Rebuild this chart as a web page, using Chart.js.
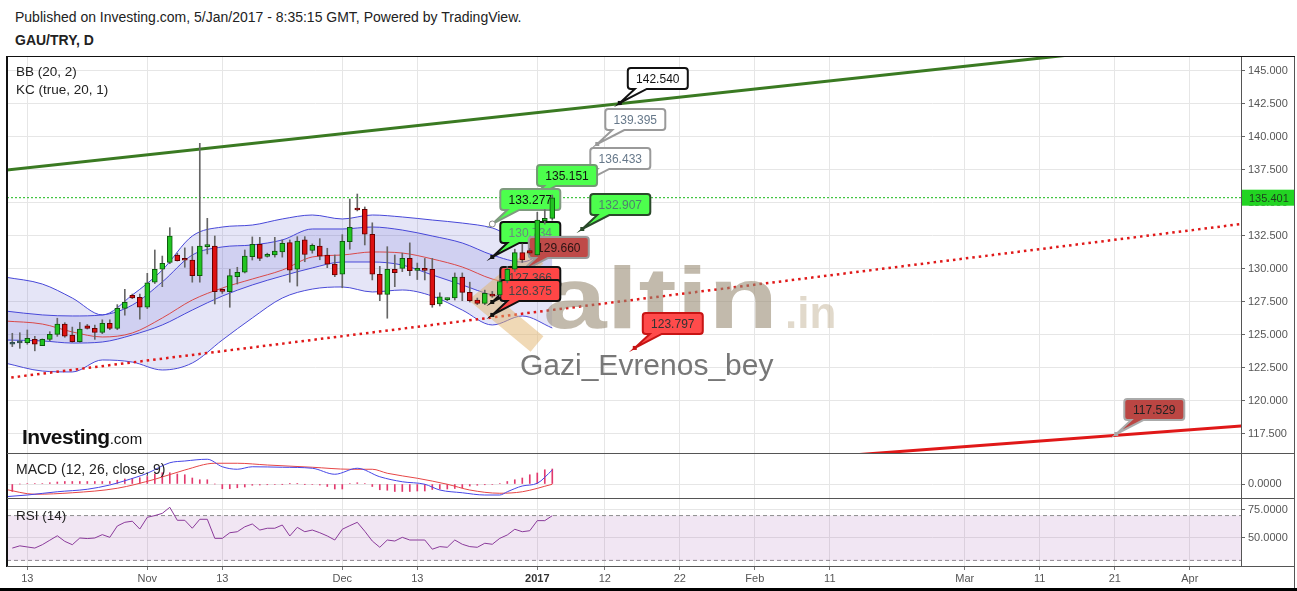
<!DOCTYPE html>
<html>
<head>
<meta charset="utf-8">
<script src="https://cdn.jsdelivr.net/npm/chart.js@4.4.0/dist/chart.umd.min.js"></script>
<style>
body { margin: 0; background: #fff; font-family: Arial, "Liberation Sans", sans-serif; width: 1297px; height: 591px; overflow: hidden; }
.abs { position: absolute; }
.wrap { position: absolute; left: 0; width: 1297px; }
.txt { position: absolute; font-size: 13.5px; color: #222; white-space: nowrap; line-height: 16px; }
.line { position: absolute; background: #555; }
</style>
</head>
<body>
<div class="txt" style="left:15px;top:9px;font-size:14px;">Published on Investing.com, 5/Jan/2017 - 8:35:15 GMT, Powered by TradingView.</div>
<div class="txt" style="left:15px;top:32px;font-size:14px;font-weight:bold;">GAU/TRY, D</div>

<div class="wrap" style="top:57px;height:396px;"><canvas id="mainChart"></canvas></div>
<div class="wrap" style="top:453px;height:45px;"><canvas id="macdChart"></canvas></div>
<div class="wrap" style="top:498px;height:93px;"><canvas id="rsiChart"></canvas></div>

<div class="line" style="left:6px;top:56px;width:1289px;height:1px;background:#111;"></div>
<div class="line" style="left:6px;top:56px;width:2px;height:511px;background:#111;"></div>
<div class="line" style="left:1241px;top:57px;width:1px;height:510px;"></div>
<div class="line" style="left:1294px;top:57px;width:1px;height:534px;"></div>
<div class="line" style="left:7px;top:453px;width:1288px;height:1px;"></div>
<div class="line" style="left:7px;top:498px;width:1288px;height:1px;"></div>
<div class="line" style="left:7px;top:566px;width:1288px;height:1px;"></div>
<div class="line" style="left:0;top:588px;width:1297px;height:3px;background:#000;"></div>

<div class="txt" style="left:16px;top:64px;">BB (20, 2)</div>
<div class="txt" style="left:16px;top:82px;">KC (true, 20, 1)</div>
<div class="txt" style="left:16px;top:461px;font-size:14px;">MACD (12, 26, close, 9)</div>
<div class="txt" style="left:16px;top:508px;">RSI (14)</div>
<div class="txt" style="left:22px;top:426px;font-size:21px;line-height:22px;font-weight:bold;color:#111;letter-spacing:-0.5px;">Investing<span style="font-size:15px;font-weight:normal;letter-spacing:0;">.com</span></div>

<script>
// daily candles, oldest first
const candleOpen = [124.30, 124.40, 124.42, 124.67, 124.20, 124.67, 125.05, 125.83, 125.00, 124.50,
  125.70, 125.50, 125.20, 125.89, 125.50, 127.02, 128.00, 127.85, 127.10, 129.00,
  129.98, 130.50, 131.06, 130.70, 130.68, 129.50, 131.69, 131.74, 128.33, 128.28,
  129.42, 129.75, 130.93, 131.87, 130.95, 131.06, 131.30, 132.00, 129.98, 132.20,
  131.40, 131.74, 131.06, 130.38, 129.60, 132.07, 134.60, 134.52, 132.63, 129.60,
  128.08, 129.98, 130.05, 130.80, 129.90, 129.98, 129.98, 127.35, 127.68, 127.80,
  129.38, 128.23, 127.65, 127.40, 128.10, 128.03, 129.10, 129.98, 131.24, 131.40,
  131.06, 133.66, 133.84];
const candleHigh = [125.13, 125.17, 125.38, 124.90, 124.70, 125.25, 126.27, 125.93, 125.60, 125.95,
  125.80, 125.75, 126.15, 126.15, 127.30, 128.46, 128.10, 128.10, 129.67, 131.44,
  130.98, 133.13, 131.20, 131.60, 131.70, 139.52, 133.84, 132.50, 128.50, 129.98,
  130.13, 131.44, 132.43, 132.40, 131.20, 132.40, 132.20, 132.20, 132.45, 132.45,
  131.90, 132.30, 131.57, 131.06, 132.60, 135.30, 135.68, 134.70, 133.50, 130.20,
  131.69, 131.06, 131.20, 131.98, 130.45, 130.80, 130.80, 128.20, 127.80, 129.70,
  129.70, 129.00, 127.80, 128.40, 128.30, 129.30, 130.20, 131.50, 131.90, 131.55,
  134.30, 134.50, 135.60];
const candleLow = [124.12, 123.99, 124.30, 123.80, 124.20, 124.55, 124.90, 124.83, 124.45, 124.45,
  125.45, 124.67, 125.10, 125.40, 125.40, 126.50, 127.75, 126.20, 127.00, 128.90,
  128.66, 130.40, 130.60, 130.13, 129.00, 129.00, 131.14, 127.35, 128.15, 127.10,
  128.86, 129.70, 130.68, 130.63, 130.90, 130.90, 130.90, 129.00, 128.71, 130.55,
  131.20, 130.70, 130.10, 129.42, 128.58, 131.50, 134.40, 131.82, 129.17, 127.60,
  126.27, 128.66, 129.80, 129.50, 129.20, 129.17, 127.10, 127.20, 127.60, 127.65,
  127.60, 127.50, 127.30, 127.30, 127.85, 127.90, 128.95, 129.80, 130.50, 131.10,
  131.00, 133.40, 133.70];
const candleClose = [124.32, 124.42, 124.75, 124.30, 124.67, 125.05, 125.83, 124.92, 124.50, 125.45,
  125.50, 125.20, 125.89, 125.50, 127.02, 127.48, 127.80, 127.10, 128.96, 129.98,
  130.43, 132.50, 130.63, 130.66, 129.50, 131.74, 131.72, 128.28, 128.30, 129.50,
  129.75, 130.98, 131.87, 130.80, 131.05, 131.36, 131.95, 129.92, 132.12, 131.10,
  131.80, 130.98, 130.36, 129.55, 132.10, 133.16, 134.47, 132.63, 129.60, 128.08,
  129.98, 129.72, 130.80, 129.87, 130.05, 129.90, 127.27, 127.90, 127.72, 129.38,
  128.23, 127.60, 127.40, 128.16, 127.95, 129.05, 129.98, 131.24, 130.68, 131.20,
  133.70, 133.84, 135.40];
const lastPrice = 135.401;

// Bollinger (20,2) and Keltner (20,1) read every 4 bars
const bandIdx = [-1, 4, 8, 12, 16, 20, 24, 28, 32, 36, 40, 44, 48, 52, 56, 60, 64, 68, 72];
const bbUpper = [129.39, 128.86, 127.80, 126.52, 128.03, 129.92, 132.50, 133.18, 133.33, 133.79, 134.09, 133.79, 134.09, 133.94, 133.71, 133.48, 133.11, 132.20, 132.80];
const kcUpper = [126.82, 126.52, 126.44, 126.52, 127.27, 129.02, 131.06, 131.67, 131.82, 132.20, 133.03, 133.03, 133.18, 132.95, 132.50, 131.97, 131.06, 130.53, 131.82];
const bbBasis = [126.06, 125.83, 125.23, 124.85, 125.15, 126.29, 127.65, 128.56, 129.24, 129.92, 130.91, 131.06, 131.29, 131.21, 130.76, 130.15, 129.24, 128.86, 129.47];
const kcLower = [124.62, 124.55, 124.39, 124.47, 125.00, 125.76, 126.89, 127.95, 128.79, 129.47, 130.08, 130.53, 130.53, 130.30, 129.55, 128.79, 128.03, 127.80, 128.41];
const bbLower = [122.88, 122.27, 122.20, 123.11, 122.95, 122.35, 122.88, 124.62, 126.29, 127.80, 128.48, 128.64, 128.26, 128.41, 127.95, 126.89, 125.76, 126.44, 125.53];

// drawn trend lines (bar index, price)
const greenTrendIdx = [-1, 150];
const greenTrendPrice = [137.48, 146.77];
const redDotIdx = [-1, 165];
const redDotPrice = [121.72, 133.49];
const redSolidIdx = [110, 165];
const redSolidPrice = [115.82, 118.16];

// price label callouts
const calloutText = ['142.540', '139.395', '136.433', '135.151', '133.277', '130.734', '129.660', '127.366', '126.375', '132.907', '123.797', '117.529'];
const calloutIdx = [81.0, 78.0, 76.0, 68.9, 64.0, 64.0, 67.8, 64.0, 64.0, 76.0, 83.0, 147.2];
const calloutPrice = [142.58, 139.47, 136.52, 135.23, 133.41, 130.91, 129.77, 127.50, 126.52, 133.03, 124.02, 117.50];

// MACD (12, 26, close, 9)
const macdIdx = [-1, 2, 6, 10, 13, 15, 18, 21, 23, 26, 28, 30, 32, 36, 40, 43, 46, 49, 52, 55, 57, 60, 63, 65, 66, 68, 70, 72];
const macdLine = [-0.51, -0.44, -0.31, -0.21, -0.04, 0.13, 0.43, 0.85, 0.92, 0.99, 0.69, 0.59, 0.69, 0.67, 0.63, 0.39, 0.63, 0.29, 0.09, -0.01, -0.24, -0.35, -0.44, -0.44, -0.31, -0.08, 0.03, 0.56];
const signalIdx = [-1, 3, 8, 14, 19, 23, 27, 30, 34, 40, 45, 48, 50, 54, 58, 61, 65, 68, 72];
const signalLine = [-0.21, -0.41, -0.35, -0.17, 0.19, 0.56, 0.83, 0.83, 0.76, 0.67, 0.59, 0.59, 0.43, 0.23, -0.01, -0.24, -0.37, -0.31, -0.01];
const macdHist = [-0.30, 0, 0.02, 0.02, 0.02, 0.05, 0.08, 0.10, 0.10, 0.10,
  0.10, 0.10, 0.10, 0.10, 0.15, 0.20, 0.22, 0.25, 0.30, 0.40,
  0.45, 0.45, 0.40, 0.37, 0.24, 0.17, 0.17, 0, -0.19, -0.19,
  -0.15, -0.12, -0.05, -0.04, -0.03, -0.02, -0.01, 0.01, 0.01, -0.01,
  -0.02, -0.04, -0.10, -0.20, -0.20, 0.02, 0.05, 0.02, -0.10, -0.23,
  -0.25, -0.30, -0.30, -0.30, -0.28, -0.28, -0.22, -0.20, -0.20, -0.18,
  -0.15, -0.08, -0.05, -0.03, -0.02, 0.02, 0.10, 0.17, 0.24, 0.37,
  0.44, 0.57, 0.60];

// RSI (14)
const rsiValues = [41, 43, 42, 41, 44, 48, 52, 47, 44, 50,
  49.5, 50, 53, 50.6, 60.7, 64, 65, 58, 68.5, 70,
  72, 77.4, 65.8, 65.8, 58.7, 66.7, 66.7, 49.7, 49.7, 54.7,
  55.6, 60, 62.5, 57.1, 58.7, 58.7, 61.6, 51.8, 59.5, 55.6,
  57.1, 54.7, 51.8, 48.2, 57.8, 61, 64, 56, 47.3, 41.7,
  48.2, 47.3, 50.6, 48.2, 48.2, 48.2, 40, 42.3, 41.7, 48.2,
  44.4, 42.3, 41.7, 45.3, 44.4, 49.7, 52.7, 57.8, 55.6, 56.5,
  65.5, 65.5, 69.9];

// axes
const xMin = -0.707;
const xMax = 163.83;
const xTickIdx = [2, 18, 28, 44, 54, 70, 79, 89, 99, 109, 127, 137, 147, 157];
const xTickLabels = ['13', 'Nov', '13', 'Dec', '13', '2017', '12', '22', 'Feb', '11', 'Mar', '11', '21', 'Apr'];
const priceTicks = [117.5, 120, 122.5, 125, 127.5, 130, 132.5, 135, 137.5, 140, 142.5, 145];
const macdTicks = [0];
const rsiTicks = [50, 75];

const FONT = 'Arial, "Liberation Sans", sans-serif';
const idx = candleOpen.map((v, i) => i);

function pts(xs, ys) {
    return xs.map((x, i) => ({ x: x, y: ys[i] }));
}

function candleFill(i) {
    const d = candleClose[i] - candleOpen[i];
    if (Math.abs(d) < 0.03) return '#2f4f4f';
    return d > 0 ? '#22c322' : '#dd1111';
}
function candleEdge(i) {
    const d = candleClose[i] - candleOpen[i];
    if (Math.abs(d) < 0.03) return '#2f4f4f';
    return d > 0 ? '#0d5a0d' : '#650000';
}

function xAxis(showLabels) {
    return {
        type: 'linear',
        min: xMin,
        max: xMax,
        offset: false,
        afterBuildTicks: s => { s.ticks = xTickIdx.map(v => ({ value: v })); },
        afterFit: s => { s.height = showLabels ? 25 : 0; s.paddingLeft = 0; s.paddingRight = 0; },
        grid: { color: '#e6e6e6', offset: false, drawTicks: showLabels, tickLength: 4, tickColor: '#777' },
        border: { display: false },
        ticks: {
            display: showLabels,
            autoSkip: false,
            maxRotation: 0,
            padding: 2,
            color: ctx => (ctx.tick && ctx.tick.label === '2017') ? '#333' : '#555',
            font: ctx => ({ size: 11, family: FONT, weight: (ctx.tick && ctx.tick.label === '2017') ? 'bold' : 'normal' }),
            callback: (v, i) => xTickLabels[i]
        }
    };
}

function yAxis(min, max, tickList, digits) {
    return {
        position: 'right',
        min: min,
        max: max,
        afterBuildTicks: s => { s.ticks = tickList.map(v => ({ value: v })); },
        afterFit: s => { s.width = 56; s.paddingTop = 0; s.paddingBottom = 0; },
        grid: { color: '#e6e6e6', tickLength: 4, tickColor: '#666' },
        border: { display: false },
        ticks: { color: '#555', padding: 3, font: { size: 11, family: FONT }, callback: v => Number(v).toFixed(digits) }
    };
}

const baseOptions = {
    animation: false,
    responsive: true,
    maintainAspectRatio: false,
    layout: { padding: { left: 7, right: 0, top: 0, bottom: 0 }, autoPadding: false },
    plugins: { legend: { display: false }, tooltip: { enabled: false } }
};

function bubble(c, px, py, text, st) {
    const bx = px + 8, by = py - 35, w = 60, h = 21, r = 3;
    c.beginPath();
    c.moveTo(bx + r, by);
    c.lineTo(bx + w - r, by);
    c.quadraticCurveTo(bx + w, by, bx + w, by + r);
    c.lineTo(bx + w, by + h - r);
    c.quadraticCurveTo(bx + w, by + h, bx + w - r, by + h);
    c.lineTo(bx + 19, by + h);
    c.lineTo(px, py);
    c.lineTo(bx + 7, by + h);
    c.lineTo(bx + r, by + h);
    c.quadraticCurveTo(bx, by + h, bx, by + h - r);
    c.lineTo(bx, by + r);
    c.quadraticCurveTo(bx, by, bx + r, by);
    c.closePath();
    c.fillStyle = st.bg;
    c.fill();
    c.lineWidth = 2;
    c.strokeStyle = st.border;
    c.stroke();
    c.fillStyle = st.color;
    c.font = '12px ' + FONT;
    c.textAlign = 'center';
    c.textBaseline = 'middle';
    c.fillText(text, bx + w / 2, by + h / 2 + 1);
    if (st.ring) {
        c.beginPath();
        c.arc(px, py, 3, 0, Math.PI * 2);
        c.fillStyle = '#fff';
        c.fill();
        c.lineWidth = 1;
        c.strokeStyle = '#888';
        c.stroke();
    } else {
        c.fillStyle = st.border;
        c.fillRect(px - 2, py - 2, 4, 4);
    }
}

const calloutStyle = [
    { bg: '#ffffff', border: '#111111', color: '#111111' },
    { bg: '#ffffff', border: '#9a9a9a', color: '#66788a' },
    { bg: '#ffffff', border: '#9a9a9a', color: '#66788a' },
    { bg: '#4dff4d', border: '#729a72', color: '#111111', ring: false },
    { bg: '#4dff4d', border: '#7f9a7f', color: '#111111', ring: true },
    { bg: '#4dff4d', border: '#111111', color: '#6a8a80' },
    { bg: '#bf4a48', border: '#9a9a9a', color: '#2a1414', ring: true },
    { bg: '#ff4646', border: '#111111', color: '#444444' },
    { bg: '#ff4646', border: '#111111', color: '#444444' },
    { bg: '#4dff4d', border: '#2a4a2a', color: '#4f7f70' },
    { bg: '#ff4b4b', border: '#c81414', color: '#333333' },
    { bg: '#bb4643', border: '#aaaaaa', color: '#222222' }
];

function drawWatermark(c) {
    c.save();
    c.translate(0, -57);
    c.strokeStyle = 'rgba(225,180,110,0.5)';
    c.lineWidth = 20;
    c.lineJoin = 'miter';
    c.beginPath();
    c.moveTo(537, 256);
    c.lineTo(484, 300);
    c.lineTo(537, 344);
    c.stroke();
    c.fillStyle = 'rgba(150,136,112,0.58)';
    c.font = 'bold 88px ' + FONT;
    c.textAlign = 'left';
    c.textBaseline = 'alphabetic';
    c.save();
    c.translate(543, 328);
    c.scale(1.3, 1);
    c.fillText('altin', 0, 0);
    c.restore();
    c.fillStyle = 'rgba(200,185,160,0.55)';
    c.font = 'bold 44px ' + FONT;
    c.fillText('.in', 785, 328);
    c.fillStyle = '#777';
    c.font = '30px ' + FONT;
    c.fillText('Gazi_Evrenos_bey', 520, 375);
    c.restore();
}

const overlayPlugin = {
    id: 'overlay',
    beforeDatasetDraw(chart, args) {
        if (args.index !== 1) return;
        const c = chart.ctx;
        const xs = chart.scales.x, ys = chart.scales.y;
        drawWatermark(c);
        c.save();
        calloutText.forEach((t, k) => {
            bubble(c, xs.getPixelForValue(calloutIdx[k]), ys.getPixelForValue(calloutPrice[k]), t, calloutStyle[k]);
        });
        c.restore();
    },
    afterDraw(chart) {
        const c = chart.ctx;
        const ys = chart.scales.y;
        const y = ys.getPixelForValue(lastPrice);
        const left = chart.chartArea.right + 1;
        c.save();
        c.fillStyle = '#22d422';
        c.fillRect(left, y - 8, 52, 16);
        c.fillStyle = '#1d3d1d';
        c.font = '11px ' + FONT;
        c.textBaseline = 'middle';
        c.textAlign = 'left';
        c.fillText(lastPrice.toFixed(3), left + 7, y + 1);
        c.restore();
    }
};

const bandLine = (data, color, order, fill, bg) => ({
    type: 'line',
    data: data,
    borderColor: color,
    borderWidth: 1,
    pointRadius: 0,
    cubicInterpolationMode: 'monotone',
    order: order,
    fill: fill,
    backgroundColor: bg
});

new Chart(document.getElementById('mainChart'), {
    type: 'line',
    data: {
        datasets: [
            {
                type: 'bar',
                data: idx.map(i => ({ x: i, y: [candleOpen[i], candleClose[i]] })),
                backgroundColor: idx.map(candleFill),
                borderColor: idx.map(candleEdge),
                borderWidth: 1,
                borderSkipped: false,
                barThickness: 5,
                minBarLength: 2,
                grouped: false,
                order: 0
            },
            {
                type: 'bar',
                data: idx.map(i => ({ x: i, y: [candleLow[i], candleHigh[i]] })),
                backgroundColor: '#666666',
                barThickness: 1,
                grouped: false,
                order: 1
            },
            {
                data: pts([xMin, xMax], [lastPrice, lastPrice]),
                borderColor: '#17b817',
                borderWidth: 1,
                borderDash: [2, 2],
                pointRadius: 0,
                order: 2
            },
            {
                data: pts(greenTrendIdx, greenTrendPrice),
                borderColor: '#3a7a22',
                borderWidth: 3,
                pointRadius: 0,
                order: 3
            },
            {
                data: pts(redDotIdx, redDotPrice),
                borderColor: '#e01818',
                borderWidth: 2.5,
                borderDash: [2.5, 4],
                pointRadius: 0,
                order: 3
            },
            {
                data: pts(redSolidIdx, redSolidPrice),
                borderColor: '#e01818',
                borderWidth: 3,
                pointRadius: 0,
                order: 3
            },
            bandLine(pts(bandIdx, bbBasis), '#d94848', 5, false, 'transparent'),
            bandLine(pts(bandIdx, kcUpper), '#4747d8', 6, 8, 'rgba(90,90,210,0.15)'),
            bandLine(pts(bandIdx, kcLower), '#4747d8', 6, false, 'transparent'),
            bandLine(pts(bandIdx, bbUpper), '#4747d8', 7, 10, 'rgba(110,110,210,0.18)'),
            bandLine(pts(bandIdx, bbLower), '#4747d8', 7, false, 'transparent')
        ]
    },
    options: Object.assign({}, baseOptions, {
        scales: { x: xAxis(false), y: yAxis(116.06, 146.06, priceTicks, 3) }
    }),
    plugins: [overlayPlugin]
});

new Chart(document.getElementById('macdChart'), {
    type: 'line',
    data: {
        datasets: [
            {
                data: pts(macdIdx, macdLine),
                borderColor: '#4646e6',
                borderWidth: 1,
                pointRadius: 0,
                cubicInterpolationMode: 'monotone',
                order: 0
            },
            {
                data: pts(signalIdx, signalLine),
                borderColor: '#e64646',
                borderWidth: 1,
                pointRadius: 0,
                cubicInterpolationMode: 'monotone',
                order: 1
            },
            {
                type: 'bar',
                data: pts(idx, macdHist),
                backgroundColor: '#e23a6e',
                barThickness: 1,
                grouped: false,
                order: 2
            }
        ]
    },
    options: Object.assign({}, baseOptions, {
        scales: { x: xAxis(false), y: yAxis(-0.56, 1.24, macdTicks, 4) }
    })
});

new Chart(document.getElementById('rsiChart'), {
    type: 'line',
    data: {
        datasets: [
            {
                data: pts(idx, rsiValues),
                borderColor: '#8a3a9a',
                borderWidth: 1,
                pointRadius: 0,
                order: 0
            },
            {
                data: pts([xMin, xMax], [70, 70]),
                borderColor: '#8c8c8c',
                borderWidth: 1,
                borderDash: [4, 3],
                pointRadius: 0,
                fill: '+1',
                backgroundColor: 'rgba(155,80,170,0.14)',
                order: 1
            },
            {
                data: pts([xMin, xMax], [30, 30]),
                borderColor: '#8c8c8c',
                borderWidth: 1,
                borderDash: [4, 3],
                pointRadius: 0,
                order: 1
            }
        ]
    },
    options: Object.assign({}, baseOptions, {
        scales: { x: xAxis(true), y: yAxis(25, 85.7, rsiTicks, 4) }
    })
});
</script>
</body>
</html>
